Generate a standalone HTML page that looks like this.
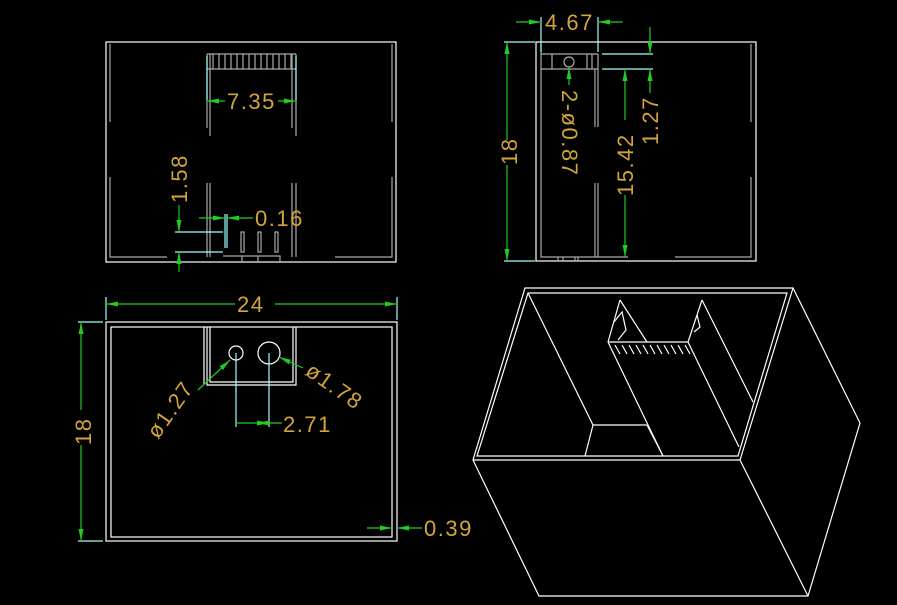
<!DOCTYPE html>
<html><head><meta charset="utf-8"><style>
html,body{margin:0;padding:0;background:#000;}
svg{display:block;}
text{font-family:"Liberation Sans",sans-serif;fill:#d2a53a;font-size:22px;letter-spacing:1.5px;}
</style></head><body>
<svg width="897" height="605" viewBox="0 0 897 605" xmlns="http://www.w3.org/2000/svg">
<defs>
<marker id="a" markerWidth="12" markerHeight="6" refX="12" refY="3" orient="auto-start-reverse" markerUnits="userSpaceOnUse">
<path d="M0,0.5 L12,3 L0,5.5 Z" fill="#22cc22"/></marker>
</defs>
<g fill="none" stroke-width="1.2">
<rect x="106" y="42" width="290" height="220" stroke="#fff"/>
<g stroke="#aaa">
<path d="M110 44V122M110 177V257H167M392 44V122M392 177V257H335"/>
<path d="M207 54V128M210 54V136M292 54V128M296 54V136"/>
<path d="M207 183V257M210 183V257M292 183V257M296 183V257"/>
<path d="M207 54H296M207 69H296"/>
<path d="M213 54V69M219 54V69M225 54V69M231 54V69M237 54V69M243 54V69M249 54V69M255 54V69M261 54V69M267 54V69M273 54V69M279 54V69M285 54V69M291 54V69"/>
<path d="M223 256H280V262M242 256V262M258 256V262"/>
<rect x="241" y="232" width="3" height="20"/><rect x="258" y="232" width="3" height="20"/><rect x="275" y="232" width="3" height="20"/>
</g>
<g stroke="#9ff">
<path d="M207 56V100M296 56V100"/>
<path d="M175 232H223M175 252H223M225 214V248M227 214V248"/>
</g>
<g stroke="#22cc22">
<line x1="225" y1="101" x2="207" y2="101" marker-end="url(#a)"/>
<line x1="278" y1="101" x2="296" y2="101" marker-end="url(#a)"/>
<line x1="179" y1="205" x2="179" y2="232" marker-end="url(#a)"/>
<line x1="179" y1="272" x2="179" y2="252" marker-end="url(#a)"/>
<line x1="199" y1="218" x2="225" y2="218" marker-end="url(#a)"/>
<line x1="253" y1="218" x2="227" y2="218" marker-end="url(#a)"/>
</g>
</g>
<text x="227" y="109">7.35</text>
<text transform="translate(187,203) rotate(-90)">1.58</text>
<text x="255" y="226">0.16</text>

<g fill="none" stroke-width="1.2">
<rect x="536" y="42" width="220" height="219" stroke="#fff"/>
<g stroke="#aaa">
<path d="M541 44V257H628M751 44V122M751 177V257H675"/>
<path d="M541 54H598M541 69H598M552 54V69M587 54V69M592 54V69"/>
<path d="M595 69V127M598 54V127M595 183V257M598 183V257"/>
<path d="M558 257V261M563 257V261M575 257V261M578 257V261"/>
<circle cx="569" cy="62" r="5"/>
</g>
<g stroke="#9ff">
<path d="M504 42H535M504 261H535M541 17V52M598 17V52M602 54H653M602 69H653"/>
</g>
<g stroke="#22cc22">
<line x1="507" y1="140" x2="507" y2="42" marker-end="url(#a)"/>
<line x1="507" y1="165" x2="507" y2="261" marker-end="url(#a)"/>
<line x1="516" y1="22" x2="541" y2="22" marker-end="url(#a)"/>
<line x1="623" y1="22" x2="598" y2="22" marker-end="url(#a)"/>
<line x1="650" y1="27" x2="650" y2="54" marker-end="url(#a)"/>
<line x1="650" y1="93" x2="650" y2="69" marker-end="url(#a)"/>
<line x1="625" y1="120" x2="625" y2="69" marker-end="url(#a)"/>
<line x1="625" y1="195" x2="625" y2="257" marker-end="url(#a)"/>
<line x1="569" y1="85" x2="569" y2="67" marker-end="url(#a)"/>
</g>
</g>
<text x="545" y="30">4.67</text>
<text transform="translate(517,165) rotate(-90)">18</text>
<text transform="translate(658,145) rotate(-90)">1.27</text>
<text transform="translate(633,196) rotate(-90)">15.42</text>
<text transform="translate(562,90) rotate(90)">2-ø0.87</text>

<g fill="none" stroke-width="1.2">
<rect x="106" y="322" width="291" height="219" stroke="#fff"/>
<rect x="111" y="327" width="281" height="210" stroke="#fff"/>
<path d="M207 327V385H296V327M210 327V382H293V327M204 327V385" stroke="#fff"/>
<circle cx="236" cy="353" r="7" stroke="#fff"/>
<circle cx="269" cy="353" r="11" stroke="#fff"/>
<g stroke="#9ff">
<path d="M106 297V320M397 297V320M78 322H103M78 541H103M236 353V427M269 353V427"/>
</g>
<g stroke="#22cc22">
<line x1="235" y1="304" x2="106" y2="304" marker-end="url(#a)"/>
<line x1="275" y1="304" x2="397" y2="304" marker-end="url(#a)"/>
<line x1="81" y1="410" x2="81" y2="322" marker-end="url(#a)"/>
<line x1="81" y1="445" x2="81" y2="541" marker-end="url(#a)"/>
<line x1="198" y1="390" x2="230" y2="360" marker-end="url(#a)"/>
<line x1="303" y1="368" x2="279" y2="357" marker-end="url(#a)"/>
<line x1="236" y1="423" x2="269" y2="423" marker-end="url(#a)"/>
<line x1="282" y1="423" x2="257" y2="423" marker-end="url(#a)"/>
<line x1="367" y1="528" x2="392" y2="528" marker-end="url(#a)"/>
<line x1="422" y1="528" x2="397" y2="528" marker-end="url(#a)"/>
</g>
</g>
<text x="237" y="312">24</text>
<text transform="translate(91,445) rotate(-90)">18</text>
<text transform="translate(158,440) rotate(-55)">ø1.27</text>
<text transform="translate(304,374) rotate(35)">ø1.78</text>
<text x="283" y="432">2.71</text>
<text x="424" y="536">0.39</text>

<g fill="none" stroke="#fff" stroke-width="1.2">
<path d="M525 288H793L860 423L808 596H539L473 460Z"/>
<path d="M473 460H740L793 288M740 460L808 596"/>
<path d="M528 293H787L738 456H477Z"/>
<path d="M528 293L593 425H647M593 425L585 456M647 425L663 456"/>
<path d="M608 342H688M608 342L663 456M688 342L739 447M620 300L647 342M620 300L608 342M702 300L753 402M702 300L688 342"/>
<path d="M614 322L622 312L626 330L618 340M697 315L700 327L694 332"/>
<path d="M615 345L620 354M622 345L627 354M629 345L634 354M636 345L641 354M643 345L648 354M650 345L655 354M657 345L662 354M664 345L669 354M671 345L676 354M678 345L683 354M685 345L690 354"/>
</g>
</svg>
</body></html>
